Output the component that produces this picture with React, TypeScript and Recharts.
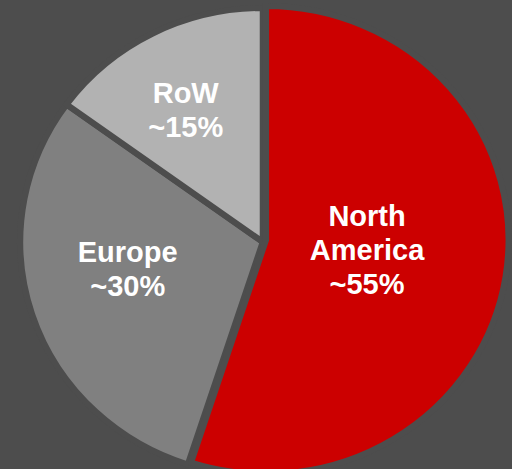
import React from 'react';
import { PieChart, Pie, Cell } from 'recharts';

// ---- data ----
const regions = ['North America', 'Europe', 'RoW'];
const shares = [55, 30, 15];
const shareLabels = ['~55%', '~30%', '~15%'];
const colors = ['#cc0000', '#808080', '#b2b2b2'];

const data = regions.map((name, i) => ({ name, value: shares[i], label: shareLabels[i] }));

// ---- style / layout ----
const BG = '#4d4d4d';
const SX = 1.037; // slight horizontal stretch of the original pie
const ORIGIN_X = 267;
const FONT = 29;
const LINE_H = 34;
const CAP = FONT * 0.716;

// label placement: radius from slice centre and angular tweak (degrees)
const labelLayout: Record<string, { r: number; tweak: number }> = {
  'North America': { r: 98, tweak: 3.1 },
  Europe: { r: 133, tweak: -6.5 },
  RoW: { r: 152, tweak: 2.3 },
};

const RAD = Math.PI / 180;

function makeLabel(visible: (name: string) => boolean) {
  return (props: any) => {
    const { cx, cy, midAngle, name, payload } = props;
    if (!visible(name)) return null;
    const lay = labelLayout[name];
    const a = (midAngle + lay.tweak) * RAD;
    const x = cx + lay.r * Math.cos(-a);
    const y = cy + lay.r * Math.sin(-a);
    const lines = [...String(name).split(' '), payload.label ?? props.label];
    const y0 = y - ((lines.length - 1) * LINE_H) / 2 + CAP / 2;
    return (
      <text
        x={x}
        y={y0}
        textAnchor="middle"
        fill="#ffffff"
        fontWeight="bold"
        fontSize={FONT}
        fontFamily="'Liberation Sans', Arial, sans-serif"
        transform={`translate(${x} 0) scale(${1 / SX} 1) translate(${-x} 0)`}
      >
        {lines.map((l, i) => (
          <tspan key={i} x={x} dy={i === 0 ? 0 : LINE_H}>
            {l}
          </tspan>
        ))}
      </text>
    );
  };
}

const isRed = (n: string) => n === 'North America';

export default function App() {
  return (
    <div
      style={{
        position: 'fixed',
        left: 0,
        top: 0,
        width: 512,
        height: 469,
        background: BG,
        overflow: 'hidden',
      }}
    >
      <div style={{ transform: `scaleX(${SX})`, transformOrigin: `${ORIGIN_X}px 0px`, width: 512, height: 469 }}>
        <PieChart width={512} height={469} margin={{ top: 0, right: 0, bottom: 0, left: 0 }}>
          <Pie
            data={data}
            dataKey="value"
            nameKey="name"
            cx={263}
            cy={242}
            outerRadius={234}
            startAngle={90}
            endAngle={-270}
            labelLine={false}
            label={makeLabel((n) => !isRed(n))}
            isAnimationActive={false}
          >
            {data.map((d, i) => (
              <Cell
                key={d.name}
                fill={isRed(d.name) ? 'transparent' : colors[i]}
                stroke={isRed(d.name) ? 'none' : BG}
                strokeWidth={6}
              />
            ))}
          </Pie>
          <Pie
            data={data}
            dataKey="value"
            nameKey="name"
            cx={266}
            cy={240}
            outerRadius={234}
            startAngle={90}
            endAngle={-270}
            labelLine={false}
            label={makeLabel((n) => isRed(n))}
            isAnimationActive={false}
          >
            {data.map((d, i) => (
              <Cell
                key={d.name}
                fill={isRed(d.name) ? colors[i] : 'transparent'}
                stroke={isRed(d.name) ? BG : 'none'}
                strokeWidth={6}
              />
            ))}
          </Pie>
        </PieChart>
      </div>
    </div>
  );
}
